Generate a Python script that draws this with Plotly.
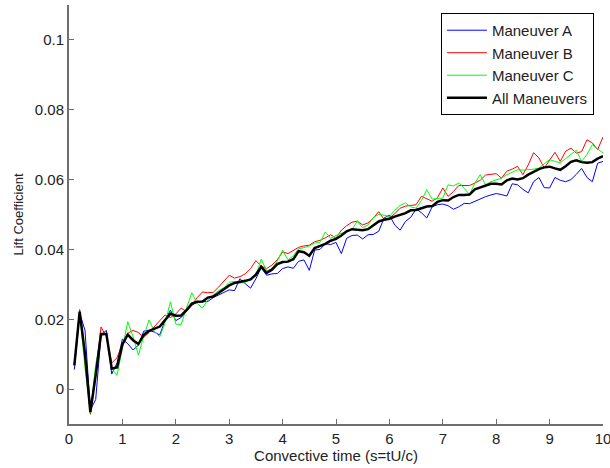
import plotly.graph_objects as go

x_time = [round(0.1 * i, 1) for i in range(1, 101)]

maneuver_a = [
    0.0056, 0.0218, 0.0168, -0.0060, -0.0030, 0.0155, 0.0168, 0.0043, 0.0075, 0.0143,
    0.0130, 0.0112, 0.0126, 0.0166, 0.0168, 0.0163, 0.0155, 0.0198, 0.0226, 0.0196,
    0.0205, 0.0222, 0.0240, 0.0249, 0.0250, 0.0251, 0.0262, 0.0270, 0.0276, 0.0284,
    0.0282, 0.0316, 0.0302, 0.0289, 0.0316, 0.0348, 0.0326, 0.0330, 0.0331, 0.0345,
    0.0350, 0.0346, 0.0366, 0.0370, 0.0340, 0.0398, 0.0400, 0.0416, 0.0414, 0.0420,
    0.0388, 0.0432, 0.0440, 0.0441, 0.0430, 0.0442, 0.0443, 0.0452, 0.0490, 0.0498,
    0.0470, 0.0455, 0.0480, 0.0492, 0.0516, 0.0505, 0.0490, 0.0522, 0.0528, 0.0530,
    0.0525, 0.0515, 0.0522, 0.0532, 0.0531, 0.0538, 0.0546, 0.0551, 0.0556, 0.0560,
    0.0557, 0.0553, 0.0588, 0.0585, 0.0572, 0.0562, 0.0594, 0.0606, 0.0577, 0.0576,
    0.0606, 0.0598, 0.0594, 0.0600, 0.0615, 0.0632, 0.0606, 0.0594, 0.0647, 0.0652,
]

maneuver_b = [
    0.0071, 0.0228, 0.0080, -0.0072, 0.0050, 0.0178, 0.0150, 0.0075, 0.0090, 0.0130,
    0.0160, 0.0168, 0.0162, 0.0148, 0.0162, 0.0180, 0.0196, 0.0212, 0.0205, 0.0215,
    0.0232, 0.0222, 0.0240, 0.0262, 0.0278, 0.0276, 0.0277, 0.0292, 0.0310, 0.0326,
    0.0318, 0.0322, 0.0330, 0.0345, 0.0368, 0.0352, 0.0345, 0.0355, 0.0370, 0.0393,
    0.0388, 0.0396, 0.0406, 0.0410, 0.0412, 0.0422, 0.0426, 0.0433, 0.0442, 0.0432,
    0.0455, 0.0468, 0.0478, 0.0481, 0.0470, 0.0476, 0.0490, 0.0508, 0.0486, 0.0490,
    0.0502, 0.0518, 0.0524, 0.0526, 0.0528, 0.0552, 0.0545, 0.0538, 0.0548, 0.0576,
    0.0552, 0.0566, 0.0583, 0.0582, 0.0583, 0.0590, 0.0598, 0.0613, 0.0616, 0.0617,
    0.0604, 0.0624, 0.0630, 0.0638, 0.0614, 0.0642, 0.0677, 0.0662, 0.0633, 0.0656,
    0.0678, 0.0652, 0.0681, 0.0690, 0.0676, 0.0680, 0.0714, 0.0705, 0.0686, 0.0722,
]

maneuver_c = [
    0.0068, 0.0220, 0.0060, -0.0068, 0.0070, 0.0150, 0.0160, 0.0058, 0.0040, 0.0118,
    0.0193, 0.0150, 0.0097, 0.0152, 0.0198, 0.0165, 0.0150, 0.0190, 0.0250, 0.0186,
    0.0185, 0.0232, 0.0276, 0.0245, 0.0232, 0.0256, 0.0270, 0.0282, 0.0290, 0.0306,
    0.0308, 0.0304, 0.0305, 0.0315, 0.0325, 0.0372, 0.0338, 0.0345, 0.0366, 0.0398,
    0.0370, 0.0382, 0.0402, 0.0405, 0.0410, 0.0418, 0.0420, 0.0450, 0.0432, 0.0440,
    0.0447, 0.0452, 0.0458, 0.0480, 0.0462, 0.0470, 0.0492, 0.0500, 0.0498, 0.0494,
    0.0512, 0.0526, 0.0533, 0.0522, 0.0518, 0.0540, 0.0571, 0.0544, 0.0546, 0.0547,
    0.0585, 0.0582, 0.0590, 0.0575, 0.0557, 0.0590, 0.0614, 0.0585, 0.0594, 0.0600,
    0.0604, 0.0614, 0.0620, 0.0628, 0.0627, 0.0628, 0.0630, 0.0633, 0.0645, 0.0657,
    0.0652, 0.0648, 0.0660, 0.0671, 0.0684, 0.0652, 0.0672, 0.0700, 0.0688, 0.0676,
]

all_maneuvers = [
    0.0068, 0.0222, 0.0100, -0.0066, 0.0040, 0.0158, 0.0158, 0.0059, 0.0062, 0.0128,
    0.0156, 0.0140, 0.0129, 0.0155, 0.0167, 0.0173, 0.0179, 0.0198, 0.0216, 0.0210,
    0.0211, 0.0226, 0.0245, 0.0250, 0.0251, 0.0262, 0.0265, 0.0275, 0.0286, 0.0297,
    0.0304, 0.0306, 0.0310, 0.0314, 0.0328, 0.0350, 0.0333, 0.0342, 0.0358, 0.0364,
    0.0365, 0.0372, 0.0395, 0.0392, 0.0382, 0.0404, 0.0410, 0.0416, 0.0425, 0.0430,
    0.0440, 0.0452, 0.0458, 0.0456, 0.0455, 0.0458, 0.0468, 0.0480, 0.0485, 0.0488,
    0.0494, 0.0498, 0.0504, 0.0512, 0.0513, 0.0518, 0.0523, 0.0524, 0.0536, 0.0541,
    0.0540, 0.0550, 0.0556, 0.0556, 0.0557, 0.0572, 0.0578, 0.0583, 0.0588, 0.0588,
    0.0586, 0.0598, 0.0603, 0.0600, 0.0604, 0.0614, 0.0623, 0.0630, 0.0635, 0.0637,
    0.0632, 0.0628, 0.0638, 0.0651, 0.0655, 0.0650, 0.0648, 0.0650, 0.0660, 0.0667,
]

x_ticks = [0, 1, 2, 3, 4, 5, 6, 7, 8, 9, 10]
y_ticks = [0, 0.02, 0.04, 0.06, 0.08, 0.1]
y_tick_labels = ["0", "0.02", "0.04", "0.06", "0.08", "0.1"]

FONT = "Liberation Sans, Arial, Helvetica, sans-serif"
AXIS_COLOR = "#6f6f6f"
TEXT_COLOR = "#222222"

fig = go.Figure()
series = [
    ("Maneuver A", maneuver_a, "#0000ff", 1),
    ("Maneuver B", maneuver_b, "#ff0000", 1),
    ("Maneuver C", maneuver_c, "#00ff00", 1),
    ("All Maneuvers", all_maneuvers, "#000000", 2.5),
]
for name, vals, color, w in series:
    fig.add_trace(go.Scatter(x=x_time, y=vals, mode="lines", name=name,
                             line=dict(color=color, width=w)))

fig.update_layout(
    width=610, height=468,
    margin=dict(l=69, r=7, t=5, b=44),
    paper_bgcolor="white", plot_bgcolor="white",
    font=dict(family=FONT, size=15, color=TEXT_COLOR),
    showlegend=True,
    legend=dict(
        x=0.983, y=0.981, xanchor="right", yanchor="top",
        bgcolor="white", bordercolor="#000000", borderwidth=1,
        font=dict(family=FONT, size=15, color=TEXT_COLOR),
        tracegroupgap=0, itemwidth=40,
    ),
    xaxis=dict(
        range=[0, 10], tickvals=x_ticks, ticktext=[str(t) for t in x_ticks],
        showgrid=False, zeroline=False, showline=True, linecolor=AXIS_COLOR, linewidth=2,
        ticks="inside", ticklen=5, tickcolor=AXIS_COLOR, tickwidth=1,
        ticklabeloverflow="allow", automargin=False,
        title=dict(text="Convective time (s=tU/c)", standoff=3,
                   font=dict(family=FONT, size=15, color=TEXT_COLOR)),
        tickfont=dict(family=FONT, size=15, color=TEXT_COLOR),
    ),
    yaxis=dict(
        range=[-0.01, 0.11], tickvals=y_ticks, ticktext=y_tick_labels,
        showgrid=False, zeroline=False, showline=True, linecolor=AXIS_COLOR, linewidth=2,
        ticks="inside", ticklen=5, tickcolor=AXIS_COLOR, tickwidth=1,
        automargin=False,
        title=dict(text="Lift Coefficient", standoff=8,
                   font=dict(family=FONT, size=13, color=TEXT_COLOR)),
        tickfont=dict(family=FONT, size=15, color=TEXT_COLOR),
    ),
)

fig.write_html("out.html")
